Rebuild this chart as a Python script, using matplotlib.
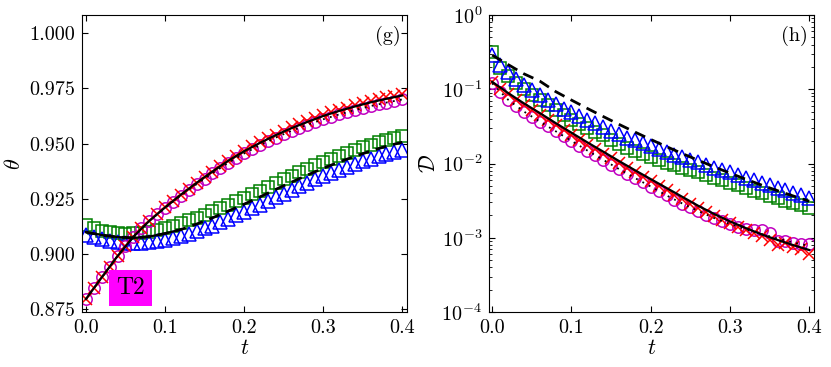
import numpy as np
import matplotlib
matplotlib.use("Agg")
import matplotlib.pyplot as plt

plt.rcParams['font.family'] = 'serif'
plt.rcParams['font.serif'] = ['cmr10']
plt.rcParams['mathtext.fontset'] = 'cm'
plt.rcParams['axes.formatter.use_mathtext'] = True

# ---------------- data ----------------
t_markers = np.round(np.arange(0, 41) * 0.01, 2)
t_lines = np.round(np.arange(0, 21) * 0.02, 2)

# panel (g): theta
theta_red_x = [0.8795, 0.8845, 0.8893, 0.8942, 0.8990, 0.9035, 0.9077, 0.9115, 0.9149, 0.9180,
               0.9210, 0.9240, 0.9268, 0.9296, 0.9322, 0.9348, 0.9373, 0.9398, 0.9422, 0.9445,
               0.9467, 0.9487, 0.9506, 0.9524, 0.9541, 0.9557, 0.9573, 0.9588, 0.9602, 0.9616,
               0.9629, 0.9641, 0.9652, 0.9663, 0.9673, 0.9683, 0.9692, 0.9701, 0.9709, 0.9717,
               0.9725]
theta_magenta_o = [0.8795, 0.8845, 0.8893, 0.8942, 0.8990, 0.9035, 0.9077, 0.9115, 0.9149, 0.9179,
                   0.9208, 0.9237, 0.9264, 0.9291, 0.9316, 0.9341, 0.9365, 0.9389, 0.9412, 0.9434,
                   0.9455, 0.9474, 0.9492, 0.9510, 0.9527, 0.9543, 0.9558, 0.9572, 0.9585, 0.9598,
                   0.9610, 0.9621, 0.9632, 0.9642, 0.9652, 0.9661, 0.9670, 0.9678, 0.9686, 0.9693,
                   0.9700]
theta_solid_A = [0.8795, 0.8893, 0.8990, 0.9077, 0.9149, 0.9210, 0.9268, 0.9322, 0.9373, 0.9422,
                 0.9465, 0.9503, 0.9538, 0.9570, 0.9598, 0.9625, 0.9648, 0.9668, 0.9687, 0.9703,
                 0.9718]
theta_dotted_A = [0.8795, 0.8893, 0.8990, 0.9077, 0.9149, 0.9208, 0.9264, 0.9316, 0.9365, 0.9412,
                  0.9455, 0.9492, 0.9527, 0.9558, 0.9585, 0.9610, 0.9632, 0.9652, 0.9670, 0.9686,
                  0.9700]
theta_green_s = [0.9130, 0.9115, 0.9104, 0.9097, 0.9093, 0.9092, 0.9093, 0.9096, 0.9101, 0.9108,
                 0.9116, 0.9126, 0.9138, 0.9151, 0.9164, 0.9178, 0.9192, 0.9207, 0.9223, 0.9238,
                 0.9254, 0.9270, 0.9287, 0.9304, 0.9321, 0.9337, 0.9354, 0.9370, 0.9386, 0.9401,
                 0.9417, 0.9431, 0.9445, 0.9458, 0.9471, 0.9483, 0.9495, 0.9506, 0.9517, 0.9525,
                 0.9532]
theta_blue_tri = [0.9086, 0.9074, 0.9065, 0.9058, 0.9053, 0.9051, 0.9050, 0.9051, 0.9053, 0.9058,
                  0.9064, 0.9072, 0.9081, 0.9091, 0.9102, 0.9115, 0.9128, 0.9143, 0.9159, 0.9174,
                  0.9190, 0.9206, 0.9223, 0.9240, 0.9257, 0.9273, 0.9290, 0.9306, 0.9322, 0.9337,
                  0.9353, 0.9367, 0.9381, 0.9394, 0.9407, 0.9419, 0.9431, 0.9442, 0.9453, 0.9462,
                  0.9471]
theta_dashed_B = [0.9098, 0.9085, 0.9076, 0.9072, 0.9078, 0.9092, 0.9110, 0.9135, 0.9163, 0.9194,
                  0.9225, 0.9258, 0.9292, 0.9325, 0.9357, 0.9388, 0.9416, 0.9442, 0.9466, 0.9488,
                  0.9506]
t_solid_B = [0.00, 0.02, 0.04, 0.06, 0.08, 0.10, 0.12]
theta_solid_B = [0.9098, 0.9085, 0.9076, 0.9072, 0.9078, 0.9092, 0.9110]

# panel (h): log10 of D
log10_D_red_x = [-0.90, -0.99, -1.07, -1.14, -1.215, -1.285, -1.35, -1.42, -1.485, -1.55,
                 -1.615, -1.68, -1.745, -1.81, -1.87, -1.93, -1.995, -2.06, -2.12, -2.18,
                 -2.24, -2.30, -2.36, -2.42, -2.48, -2.54, -2.60, -2.655, -2.71, -2.76,
                 -2.805, -2.85, -2.89, -2.935, -2.97, -3.03, -3.10, -3.07, -3.12, -3.15,
                 -3.22]
log10_D_magenta_o = [-0.92, -1.04, -1.14, -1.23, -1.30, -1.37, -1.435, -1.50, -1.565, -1.63,
                     -1.695, -1.76, -1.825, -1.89, -1.95, -2.015, -2.075, -2.135, -2.195, -2.255,
                     -2.31, -2.37, -2.43, -2.485, -2.54, -2.59, -2.64, -2.69, -2.735, -2.775,
                     -2.815, -2.85, -2.885, -2.90, -2.90, -2.93, -3.04, -3.05, -3.07, -3.08,
                     -3.09]
log10_D_solid_A = [-0.90, -1.05, -1.19, -1.32, -1.455, -1.585, -1.715, -1.84, -1.967, -2.09,
                   -2.21, -2.33, -2.45, -2.57, -2.68, -2.78, -2.87, -2.955, -3.03, -3.10,
                   -3.165]
log10_D_dotted_A = [-0.92, -1.14, -1.30, -1.435, -1.565, -1.695, -1.825, -1.95, -2.075, -2.195,
                    -2.31, -2.43, -2.54, -2.64, -2.735, -2.815, -2.885, -2.95, -3.01, -3.065,
                    -3.11]
log10_D_green_s = [-0.50, -0.717, -0.816, -0.919, -0.996, -1.076, -1.143, -1.211, -1.278, -1.345,
                   -1.41, -1.47, -1.525, -1.575, -1.62, -1.68, -1.74, -1.785, -1.83, -1.87,
                   -1.91, -1.95, -1.99, -2.025, -2.06, -2.09, -2.12, -2.155, -2.19, -2.225,
                   -2.26, -2.295, -2.33, -2.365, -2.40, -2.435, -2.47, -2.50, -2.535, -2.565,
                   -2.60]
log10_D_blue_tri = [-0.538, -0.673, -0.771, -0.861, -0.942, -1.012, -1.076, -1.14, -1.20, -1.26,
                    -1.31, -1.36, -1.41, -1.46, -1.51, -1.56, -1.605, -1.65, -1.69, -1.73,
                    -1.77, -1.81, -1.845, -1.88, -1.915, -1.95, -1.985, -2.02, -2.055, -2.09,
                    -2.12, -2.155, -2.19, -2.225, -2.26, -2.295, -2.33, -2.36, -2.395, -2.43,
                    -2.46]
log10_D_dashed_B = [-0.54, -0.667, -0.792, -0.89, -1.031, -1.146, -1.258, -1.367, -1.473, -1.576,
                    -1.676, -1.773, -1.867, -1.957, -2.045, -2.130, -2.212, -2.291, -2.366, -2.438,
                    -2.508]

x_ticks = [0.0, 0.1, 0.2, 0.3, 0.4]
theta_ticks = [0.875, 0.900, 0.925, 0.950, 0.975, 1.000]
D_ticks = [1e-4, 1e-3, 1e-2, 1e-1, 1e0]

# ---------------- figure ----------------
fig = plt.figure(figsize=(8.31, 3.67), dpi=100)
axL = fig.add_axes([82 / 831, 55 / 367, 325 / 831, 297 / 367])
axR = fig.add_axes([489 / 831, 55 / 367, 325 / 831, 297 / 367])

ms = 8.2
mew = 1.1
red = '#ff0000'
mag = '#c000c0'
grn = '#008000'
blu = '#0000ff'


def style(ax):
    ax.tick_params(direction='in', which='both', top=True, right=True, labelsize=14.5, pad=5)
    ax.tick_params(which='major', length=4.5, width=0.8)
    ax.tick_params(which='minor', length=2.5, width=0.6)
    for s in ax.spines.values():
        s.set_linewidth(0.8)


def draw_markers(ax, green, blue, magenta, redx):
    ax.plot(t_markers, green, ls='none', marker='s', ms=ms, mfc='none', mec=grn, mew=mew, zorder=2)
    ax.plot(t_markers, blue, ls='none', marker='^', ms=ms + 1.2, mfc='none', mec=blu, mew=mew, zorder=2)
    ax.plot(t_markers, magenta, ls='none', marker='o', ms=ms, mfc='none', mec=mag, mew=mew, zorder=2)
    ax.plot(t_markers, redx, ls='none', marker='x', ms=ms, mec=red, mew=mew, zorder=2)


# left panel
draw_markers(axL, theta_green_s, theta_blue_tri, theta_magenta_o, theta_red_x)
axL.plot(t_lines, theta_solid_A, color='k', lw=1.6, zorder=4)
axL.plot(t_lines, theta_dotted_A, color='k', lw=1.3, ls=(0, (1, 3)), zorder=4)
axL.plot(t_lines, theta_dashed_B, color='k', lw=2.0, ls=(0, (4, 2.5)), zorder=4)
axL.plot(t_solid_B, theta_solid_B, color='k', lw=1.6, zorder=4)

axL.set_xlim(-0.005, 0.406)
axL.set_ylim(0.8736, 1.0083)
axL.set_xticks(x_ticks)
axL.set_yticks(theta_ticks)
axL.set_xticklabels([f'{v:.1f}' for v in x_ticks])
axL.set_yticklabels([f'{v:.3f}' for v in theta_ticks])
axL.set_xlabel(r'$t$', fontsize=16, labelpad=1)
axL.set_ylabel(r'$\theta$', fontsize=16, labelpad=4)
style(axL)
axL.text(0.94, 0.93, '(g)', transform=axL.transAxes, ha='center', va='center', fontsize=14.5)
axL.text(0.148, 0.081, 'T2', transform=axL.transAxes, ha='center', va='center', fontsize=17,
         bbox=dict(boxstyle='square,pad=0.3', facecolor='#ff00ff', edgecolor='none'))

# right panel
draw_markers(axR, 10 ** np.array(log10_D_green_s), 10 ** np.array(log10_D_blue_tri),
             10 ** np.array(log10_D_magenta_o), 10 ** np.array(log10_D_red_x))
axR.plot(t_lines, 10 ** np.array(log10_D_solid_A), color='k', lw=1.6, zorder=4)
axR.plot(t_lines, 10 ** np.array(log10_D_dotted_A), color='k', lw=1.3, ls=(0, (1, 3)), zorder=4)
axR.plot(t_lines, 10 ** np.array(log10_D_dashed_B), color='k', lw=2.0, ls=(0, (4, 2.5)), zorder=4)

axR.set_yscale('log')
axR.set_xlim(-0.004, 0.406)
axR.set_ylim(1e-4, 1e0)
axR.set_xticks(x_ticks)
axR.set_xticklabels([f'{v:.1f}' for v in x_ticks])
axR.set_yticks(D_ticks)
axR.set_xlabel(r'$t$', fontsize=16, labelpad=1)
axR.set_ylabel(r'$\mathcal{D}$', fontsize=16, labelpad=2)
style(axR)
axR.text(0.94, 0.93, '(h)', transform=axR.transAxes, ha='center', va='center', fontsize=14.5)

fig.savefig('out.png', dpi=100)
